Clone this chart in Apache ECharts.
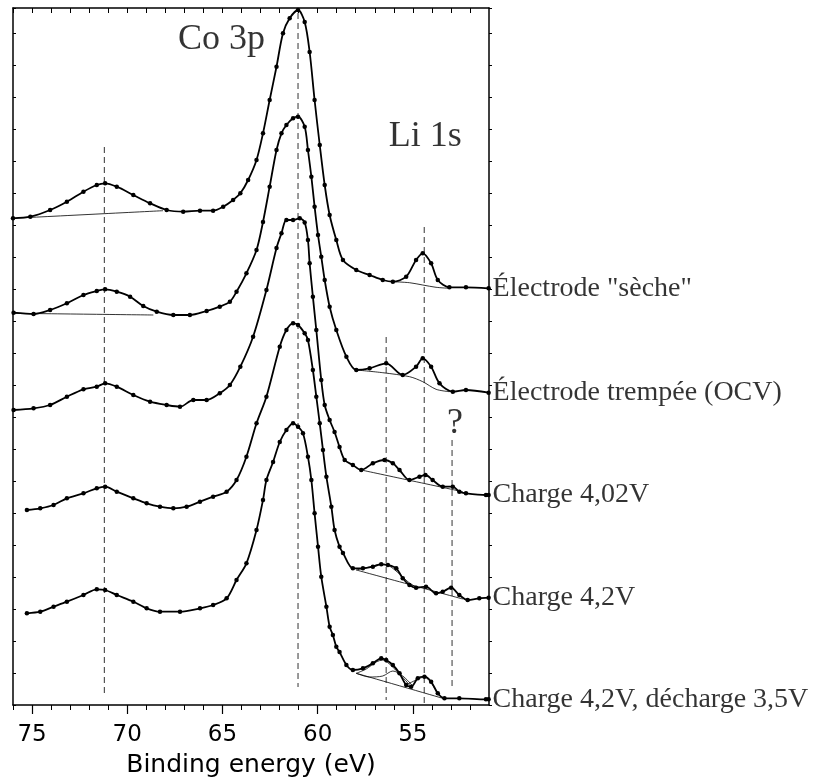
<!DOCTYPE html>
<html>
<head>
<meta charset="utf-8">
<script src="https://cdn.jsdelivr.net/npm/echarts@6/dist/echarts.min.js"></script>
<style>
	html, body { margin: 0; padding: 0; background: #fff; }
	#chart { width: 816px; height: 782px; }
</style>
</head>
<body>
<div id="chart"></div>
<script>
// XPS Co 3p / Li 1s spectra, stacked. x = binding energy (eV), y = intensity (arb. units, offset per spectrum)
var spectrumNames = ['Électrode "sèche"', 'Électrode trempée (OCV)', 'Charge 4,02V', 'Charge 4,2V', 'Charge 4,2V, décharge 3,5V'];

var secheData = [[76.0,486.7],[75.09,488.3],[74.05,495],[73.17,503.3],[72.30,513.3],[71.60,520],[71.16,521.7],[70.55,518.3],
	[69.68,510],[68.80,501.7],[67.93,495],[67.06,493.3],[66.18,494.3],[65.49,494.3],[64.96,498.3],[64.44,505],[64.06,511.7],
	[63.65,525],[63.21,545],[62.87,571.7],[62.52,605],[62.16,638.3],[61.82,671.7],[61.47,686.7],[61.03,695],[60.68,683],
	[60.42,653],[60.16,605],[59.89,560],[59.63,520],[59.37,490],[59.02,465],[58.67,445],[57.97,435],[57.27,430],[56.58,425],
	[56.05,423.3],[55.35,428.3],[54.83,445],[54.48,451.7],[54.04,441.7],[53.69,425],[53.08,417.7],[52.21,417.7],[51.02,416.7]];

var trempeeData = [[75.97,392.3],[74.92,391],[74.05,395],[73.17,401.7],[72.30,410],[71.60,414],[71.16,415.7],[70.55,413.3],
	[69.85,408.3],[69.16,399],[68.45,393.3],[67.58,390],[66.71,390],[65.83,394],[65.14,398.3],[64.61,403.3],[64.26,413.3],
	[63.74,431.7],[63.21,455],[62.87,483],[62.52,518.3],[62.16,555],[61.90,571.7],[61.64,580],[61.29,586.7],[61.03,588.3],
	[60.68,578.3],[60.51,555],[60.33,528.3],[60.16,498.3],[59.98,470],[59.81,448.3],[59.63,425],[59.37,398.3],[59.02,375],
	[58.49,348.3],[57.97,335],[57.27,336.7],[56.40,341.7],[55.53,330],[54.83,338.3],[54.48,346.7],[54.04,338.3],[53.60,321.7],
	[52.90,313.3],[52.21,315],[51.02,312.3]];

var charge402Data = [[75.97,295],[74.92,296.7],[74.05,300],[73.17,308.3],[72.30,315.7],[71.60,318.3],[71.16,321.7],[70.55,318.3],
	[69.68,310],[68.80,303.3],[67.93,300],[67.23,298.3],[66.53,305],[65.83,305],[65.14,311.7],[64.61,320],[64.06,338.3],
	[63.39,368.3],[62.69,415],[62.16,457],[61.90,471.7],[61.64,485],[61.29,485],[60.94,486.7],[60.68,482.5],[60.51,465],
	[60.42,441.7],[60.25,408.3],[60.07,375],[59.81,325],[59.63,300],[59.37,285],[59.11,273],[58.85,258],[58.58,245],
	[58.15,240],[57.71,235],[57.10,241.7],[56.49,245],[56.05,241.7],[55.70,235],[55.18,225],[54.65,228.3],[54.34,230],
	[53.96,225],[53.43,218.3],[52.90,218.3],[52.56,213.3],[52.21,211.7],[51.16,210],[51.02,210]];

var charge42Data = [[75.27,195],[74.57,196.7],[73.87,200],[73.17,206.7],[72.30,211.7],[71.60,216.7],[71.16,218.3],[70.55,213.3],
	[69.68,206.7],[68.98,201.7],[68.28,198.3],[67.58,196.7],[66.88,198.3],[66.18,203.3],[65.49,208.3],[64.78,213.3],
	[64.26,225],[63.74,248.3],[63.21,281.7],[62.69,308.3],[61.99,358.3],[61.64,375],[61.29,381.7],[61.03,380],[60.68,371.7],
	[60.51,365],[60.25,335],[60.07,308.3],[59.89,281.7],[59.72,255],[59.54,228.3],[59.28,198.3],[59.11,175],[58.85,158.3],
	[58.67,152],[58.15,136.7],[57.62,136.7],[57.10,138.3],[56.66,140.7],[56.31,140],[55.87,136.7],[55.53,126.7],[55.18,120],
	[54.83,117.3],[54.31,118.3],[53.78,111.7],[53.43,113.3],[52.99,117.3],[52.56,110],[52.12,105],[51.51,106.7],[51.02,107.3]];

var dechargeData = [[75.27,91.7],[74.57,93.3],[73.87,98.3],[73.17,103.3],[72.30,110],[71.60,115.7],[71.16,115],[70.55,110],
	[69.68,103.3],[68.98,96.7],[68.28,93.3],[67.23,93.3],[66.18,96.7],[65.49,100],[64.78,106.7],[64.26,125],[63.74,141.7],
	[63.21,175],[62.87,205],[62.69,225],[62.34,243],[61.99,263],[61.64,275],[61.29,281.7],[61.03,278.3],[60.77,271.7],
	[60.51,248.3],[60.33,225],[60.16,191.7],[59.98,158.3],[59.81,128.3],[59.54,98.3],[59.37,78.3],[59.20,70],[59.02,58.3],
	[58.85,53],[58.49,40],[58.15,35],[57.62,36.7],[57.10,41.7],[56.66,46.7],[56.40,45],[56.05,40],[55.70,31.7],[55.35,20],
	[55.09,18.3],[54.74,26.7],[54.39,28.3],[54.04,23.3],[53.69,11.7],[53.34,6.7],[52.56,6.7],[51.16,5.7],[51.02,5.7]];

// fitted backgrounds and components (thin lines)
var fitLines = [
	[[76.0,486.7],[68.12,494.3]],
	[[56.05,423.3],[55.18,422.3],[54.48,420],[53.78,417.7],[53.08,416.7]],
	[[75.97,391.7],[68.63,390]],
	[[57.97,335],[56.58,332.3],[55.17,328.3],[54.48,323.3],[53.78,315.7],[53.08,313.3]],
	[[57.71,235],[52.38,213.3]],
	[[57.97,135],[52.38,106]],
	[[57.97,135],[57.27,138],[56.66,141],[56.23,139],[55.70,131],[55.18,122],[54.83,118]],
	[[57.97,31.7],[53.43,6.7]],
	[[57.97,31.7],[57.45,36],[56.92,43],[56.58,45],[56.23,41],[55.70,31],[55.18,20.3]],
	[[57.97,31.7],[57.27,28],[56.58,29],[56.05,34],[55.53,29],[55.0,19]],
	[[55.35,20],[54.83,25],[54.39,28],[54.04,22],[53.60,9]]
];

// vertical dashed reference lines: position (eV), top and bottom (intensity units)
var peakPositions = [71.2, 61.03, 56.4, 54.4, 52.94];
var peakLineTops = [558, 692, 368, 478, 265];
var peakLineBottoms = [12, 18, 5, 0, 17];

// text annotations
var annotationTexts = ['Co 3p', 'Li 1s', '?'];
var annotationPositions = [[65.05, 665], [54.35, 568], [52.79, 281]];

var xLabelValues = [55, 60, 65, 70, 75];
var xMinorValues = [52,53,54,55,56,57,58,59,60,61,62,63,64,65,66,67,68,69,70,71,72,73,74,75,76];

var ChartPage = function () {
	this.chart = null;
	this.initialize();
};

ChartPage.prototype = {

	initialize: function () {
		this.chart = echarts.init(document.getElementById('chart'), null, { renderer: 'canvas' });
		this.chart.setOption(this.buildOption());
	},

	xAxisBase: function () {
		return { type: 'value', min: 51, max: 76, inverse: true, splitLine: { show: false } };
	},

	buildOption: function () {
		let spectra = [secheData, trempeeData, charge402Data, charge42Data, dechargeData];
		let series = [];

		peakPositions.forEach(function (pos, i) {
			series.push({
				type: 'line', silent: true, symbol: 'none', z: 1,
				data: [[pos, peakLineTops[i]], [pos, peakLineBottoms[i]]],
				lineStyle: { color: '#555', width: 1.2, type: [6, 4] }
			});
		});

		fitLines.forEach(function (pts) {
			series.push({
				type: 'line', silent: true, symbol: 'none', z: 2, smooth: 0.3,
				data: pts, lineStyle: { color: '#000', width: 0.8 }
			});
		});

		spectra.forEach(function (pts, i) {
			series.push({
				type: 'line', name: spectrumNames[i], silent: true, z: 3,
				data: pts, smooth: 0.3, symbol: 'circle', symbolSize: 4.5, showSymbol: true,
				itemStyle: { color: '#000' },
				lineStyle: { color: '#000', width: 1.8 }
			});
		});

		// labels at the right end of each spectrum
		series.push({
			type: 'scatter', silent: true, symbolSize: 0, z: 4,
			data: spectra.map(function (pts, i) {
				return { name: spectrumNames[i], value: pts[pts.length - 1] };
			}),
			label: {
				show: true, position: 'right', distance: 4, formatter: '{b}',
				color: '#000', fontFamily: 'Liberation Serif', fontSize: 28
			}
		});

		series.push({
			type: 'scatter', silent: true, symbolSize: 0, z: 4,
			data: annotationTexts.map(function (t, i) {
				return { name: t, value: annotationPositions[i] };
			}),
			label: {
				show: true, position: 'inside', formatter: '{b}',
				color: '#000', fontFamily: 'Liberation Serif', fontSize: 36
			}
		});

		let xMain = Object.assign(this.xAxisBase(), {
			position: 'bottom',
			name: 'Binding energy (eV)', nameLocation: 'middle', nameGap: 48,
			nameTextStyle: { fontFamily: 'DejaVu Sans', fontSize: 25, color: '#000' },
			axisLine: { show: true, lineStyle: { color: '#000', width: 1.5 } },
			axisTick: { show: true, inside: false, length: 9, customValues: xLabelValues, lineStyle: { color: '#000', width: 1.2 } },
			axisLabel: { show: true, customValues: xLabelValues, margin: 19, fontFamily: 'DejaVu Sans', fontSize: 23, color: '#000' }
		});
		let xMinor = Object.assign(this.xAxisBase(), {
			position: 'bottom',
			axisLine: { show: false },
			axisTick: { show: true, inside: false, length: 5, customValues: xMinorValues, lineStyle: { color: '#000', width: 1 } },
			axisLabel: { show: false }
		});
		let xTop = Object.assign(this.xAxisBase(), {
			position: 'top',
			axisLine: { show: true, lineStyle: { color: '#000', width: 1.5 } },
			axisTick: { show: true, inside: true, length: 5, customValues: xMinorValues, lineStyle: { color: '#000', width: 1 } },
			axisLabel: { show: false }
		});

		return {
			animation: false,
			backgroundColor: '#fff',
			grid: { left: 13, right: 327, top: 8, bottom: 77, containLabel: false, outerBoundsMode: 'none' },
			xAxis: [xMain, xMinor, xTop],
			yAxis: [
				{
					type: 'value', min: 0, max: 697, interval: 32, position: 'left',
					splitLine: { show: false },
					axisLine: { show: true, lineStyle: { color: '#000', width: 1.5 } },
					axisTick: { show: true, inside: true, length: 3, lineStyle: { color: '#000', width: 1 } },
					axisLabel: { show: false }
				},
				{
					type: 'value', min: 0, max: 697, interval: 32, position: 'right',
					splitLine: { show: false },
					axisLine: { show: true, lineStyle: { color: '#000', width: 1.5 } },
					axisTick: { show: true, inside: false, length: 3, lineStyle: { color: '#000', width: 1 } },
					axisLabel: { show: false }
				}
			],
			series: series
		};
	}
};

new ChartPage();
</script>
</body>
</html>
